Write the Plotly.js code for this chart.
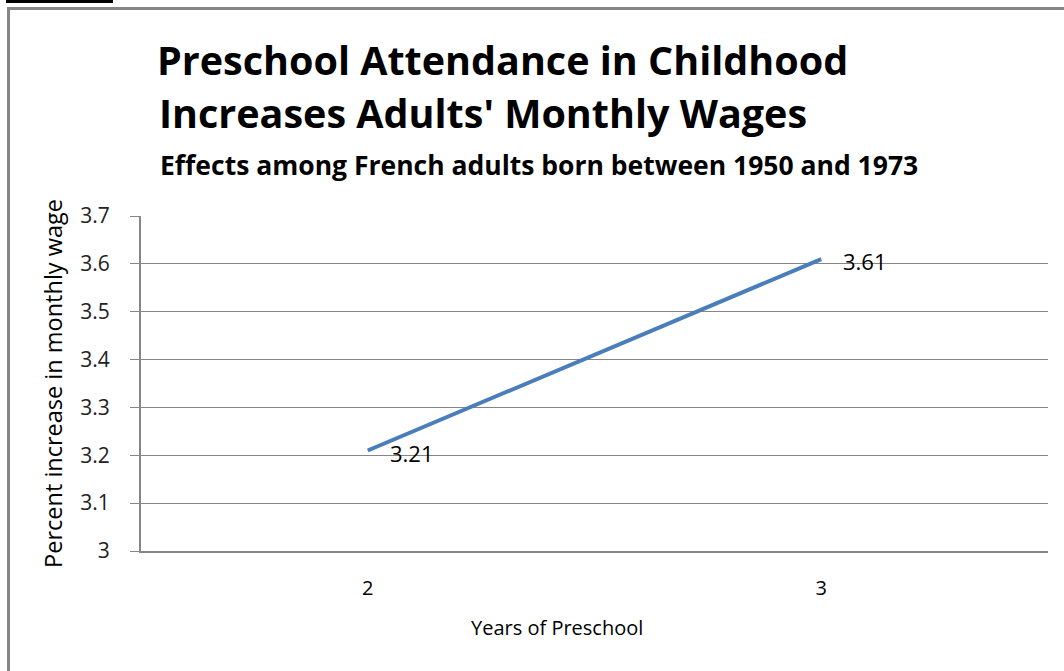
<!DOCTYPE html>
<html>
<head>
<meta charset="utf-8">
<script src="https://cdn.plot.ly/plotly-3.0.1.min.js"></script>
<style>
  html, body { margin: 0; padding: 0; background: #fff; }
  #wrap { position: relative; width: 1064px; height: 671px; overflow: hidden; }
  #chart { position: absolute; left: 0; top: 0; width: 1064px; height: 671px; }
  #frame { position: absolute; left: 7px; top: 7px; width: 1100px; height: 700px;
           border-left: 3px solid #868686; border-top: 3px solid #868686; pointer-events: none; }
  #bar { position: absolute; left: 6px; top: 0; width: 107px; height: 3px; background: #000; }
</style>
</head>
<body>
<div id="wrap">
  <div id="chart"></div>
  <div id="frame"></div>
  <div id="bar"></div>
</div>
<script>
const categories = ["2", "3"];
const wageIncrease = [3.21, 3.61];
const dataLabels = ["3.21", "3.61"];
const yTickVals = [3, 3.1, 3.2, 3.3, 3.4, 3.5, 3.6, 3.7];
const yTickText = ["3", "3.1", "3.2", "3.3", "3.4", "3.5", "3.6", "3.7"];

const FONT = "'Open Sans', sans-serif";
const GRID = "#868686";

const trace = {
  x: categories,
  y: wageIncrease,
  type: "scatter",
  mode: "lines",
  line: { color: "#4A7EBB", width: 4 },
  hoverinfo: "skip",
  showlegend: false
};

const labelAnns = categories.map((c, i) => ({
  x: i, y: wageIncrease[i], xref: "x", yref: "y",
  text: dataLabels[i], showarrow: false,
  xanchor: "left", yanchor: "middle", xshift: 20, yshift: -2,
  font: { family: FONT, size: 22, color: "#000" }
}));

const PW = 907, PH = 335;
const px = v => (v - 141) / PW;
const py = v => (551 - v) / PH;

const layout = {
  width: 1064, height: 671,
  margin: { l: 141, r: 16, t: 216, b: 120 },
  paper_bgcolor: "#fff", plot_bgcolor: "#fff",
  font: { family: FONT, color: "#000" },
  title: {
    text: "<b>Preschool Attendance in Childhood</b>",
    xref: "container", yref: "container",
    x: 157 / 1064, xanchor: "left",
    y: 1 - 61 / 671, yanchor: "middle",
    font: { family: FONT, size: 39.5, color: "#000" }
  },
  xaxis: {
    type: "category",
    range: [-0.5, 1.5],
    showgrid: false, zeroline: false,
    showline: true, linecolor: GRID, linewidth: 2,
    ticks: "", ticklabelstandoff: 18,
    tickfont: { family: FONT, size: 20, color: "#000" },
    fixedrange: true
  },
  yaxis: {
    range: [3, 3.7],
    tickvals: yTickVals, ticktext: yTickText,
    showgrid: true, gridcolor: GRID, gridwidth: 1,
    zeroline: false,
    showline: true, linecolor: GRID, linewidth: 2,
    ticks: "outside", ticklen: 9, tickcolor: GRID, tickwidth: 1,
    ticklabelstandoff: 16,
    tickfont: { family: FONT, size: 21, color: "#222" },
    title: { text: "Percent increase in monthly wage", standoff: 11,
             font: { family: FONT, size: 23.5, color: "#000" } },
    fixedrange: true
  },
  annotations: [
    {
      xref: "paper", yref: "paper",
      x: px(157), y: py(113),
      xanchor: "left", yanchor: "middle",
      text: "<b>Increases Adults' Monthly Wages</b>",
      showarrow: false,
      font: { family: FONT, size: 39.5, color: "#000" }
    },
    {
      xref: "paper", yref: "paper",
      x: px(158), y: py(165),
      xanchor: "left", yanchor: "middle",
      text: "<b>Effects among French adults born between 1950 and 1973</b>",
      showarrow: false,
      font: { family: FONT, size: 26.5, color: "#000" }
    },
    {
      xref: "paper", yref: "paper",
      x: px(557), y: py(627),
      xanchor: "center", yanchor: "middle",
      text: "Years of Preschool", showarrow: false,
      font: { family: FONT, size: 20, color: "#000" }
    }
  ].concat(labelAnns)
};

Plotly.newPlot("chart", [trace], layout, { displayModeBar: false, staticPlot: true });
</script>
</body>
</html>
